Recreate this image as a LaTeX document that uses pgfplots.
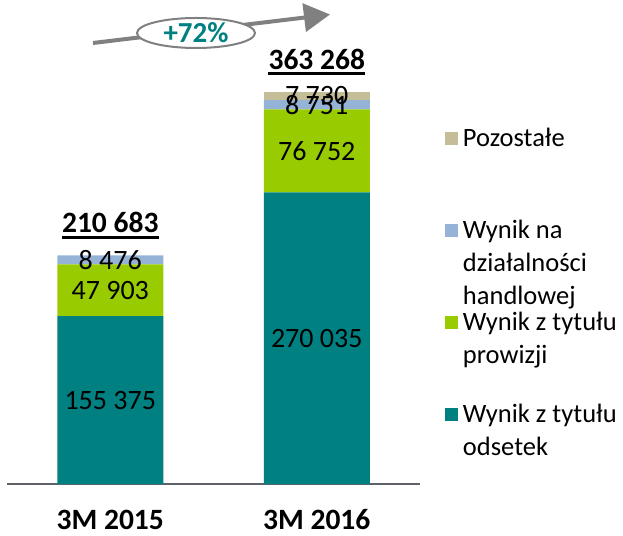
\documentclass[border=0pt]{standalone}
\usepackage{pgfplots}
\pgfplotsset{compat=1.18}
\usepackage{fontspec}
\setmainfont{Carlito}
\usetikzlibrary{arrows.meta}
\definecolor{cteal}{RGB}{0,128,128}
\definecolor{cgreen}{RGB}{153,204,0}
\definecolor{cblue}{RGB}{149,179,215}
\definecolor{cbeige}{RGB}{196,189,151}
\definecolor{cgray}{RGB}{128,128,128}
\definecolor{axisgray}{RGB}{95,99,104}
\begin{document}
\begin{tikzpicture}
\useasboundingbox (0,0) rectangle (623pt,535pt);
\begin{axis}[
  at={(7pt,51pt)}, anchor=south west,
  scale only axis, width=413pt, height=484pt,
  xmin=-0.5, xmax=1.5, ymin=0, ymax=448148,
  ybar stacked, bar width=106pt,
  axis x line=bottom, axis y line=none,
  axis line style={draw=axisgray, line width=2pt, -},
  xtick={0,1}, xticklabels={3M 2015,3M 2016},
  major tick length=0pt,
  xticklabel style={font=\fontsize{29.5}{32}\selectfont\bfseries, anchor=base, inner sep=0pt, yshift=-45.5pt},
  clip=false,
  legend image code/.code={\fill[#1] (0pt,-6.5pt) rectangle (13pt,6.5pt);},
  reverse legend,
  legend cell align=left,
  legend style={at={(axis description cs:1.0605,0.7407)}, anchor=north west,
    draw=none, fill=none, inner sep=0pt, outer sep=0pt,
    row sep=66pt, column sep=5pt,
    nodes={inner sep=0pt, outer sep=0pt, text height=21pt, text depth=5pt},
    font=\fontsize{26.5}{33}\selectfont},
]
\addplot[fill=cteal, draw=none] coordinates {(0,155375) (1,270035)};
\addlegendentry{\begin{tabular}[t]{@{}l@{}}Wynik z tytułu\\odsetek\end{tabular}}
\addplot[fill=cgreen, draw=none] coordinates {(0,47903) (1,76752)};
\addlegendentry{\begin{tabular}[t]{@{}l@{}}Wynik z tytułu\\prowizji\end{tabular}}
\addplot[fill=cblue, draw=none] coordinates {(0,8476) (1,8751)};
\addlegendentry{\begin{tabular}[t]{@{}l@{}}Wynik na\\działalności\\handlowej\end{tabular}}
\addplot[fill=cbeige, draw=none] coordinates {(0,0) (1,7730)};
\addlegendentry{Pozostałe}

\coordinate (a1) at (axis cs:0,77688);
\coordinate (a2) at (axis cs:0,179326);
\coordinate (a3) at (axis cs:0,207516);
\coordinate (b1) at (axis cs:1,135017);
\coordinate (b2) at (axis cs:1,308411);
\coordinate (b3) at (axis cs:1,351162);
\coordinate (b4) at (axis cs:1,359403);
\coordinate (ta) at (axis cs:0,211754);
\coordinate (tb) at (axis cs:1,363268);
\end{axis}
\begin{scope}[every node/.style={font=\fontsize{28}{30}\selectfont, inner sep=0pt}]
\node at (a1) {155 375};
\node at (a2) {47 903};
\node at (a3) {8 476};
\node at (b1) {270 035};
\node at (b2) {76 752};
\node at (b3) {8 751};
\node at (b4) {7 730};
\end{scope}
\node[anchor=south, inner sep=0pt, yshift=22pt, font=\fontsize{29.5}{32}\selectfont\bfseries] (t1) at (ta) {210 683};
\node[anchor=south, inner sep=0pt, yshift=22pt, font=\fontsize{29.5}{32}\selectfont\bfseries] (t2) at (tb) {363 268};
\draw[black, line width=2.5pt] ([yshift=-4.5pt]t1.base west) -- ([yshift=-4.5pt]t1.base east);
\draw[black, line width=2.5pt] ([yshift=-4.5pt]t2.base west) -- ([yshift=-4.5pt]t2.base east);
\draw[cgray, line width=4pt, -{Triangle[length=26pt,width=28pt]}] (93pt,492pt) -- (330pt,520.5pt);
\draw[fill=white, draw=cgray, line width=2pt] (196pt,502pt) ellipse [x radius=59pt, y radius=15pt];
\node[font=\fontsize{29}{32}\selectfont\bfseries, text=cteal] at (196pt,502pt) {+72\%};
\end{tikzpicture}
\end{document}
